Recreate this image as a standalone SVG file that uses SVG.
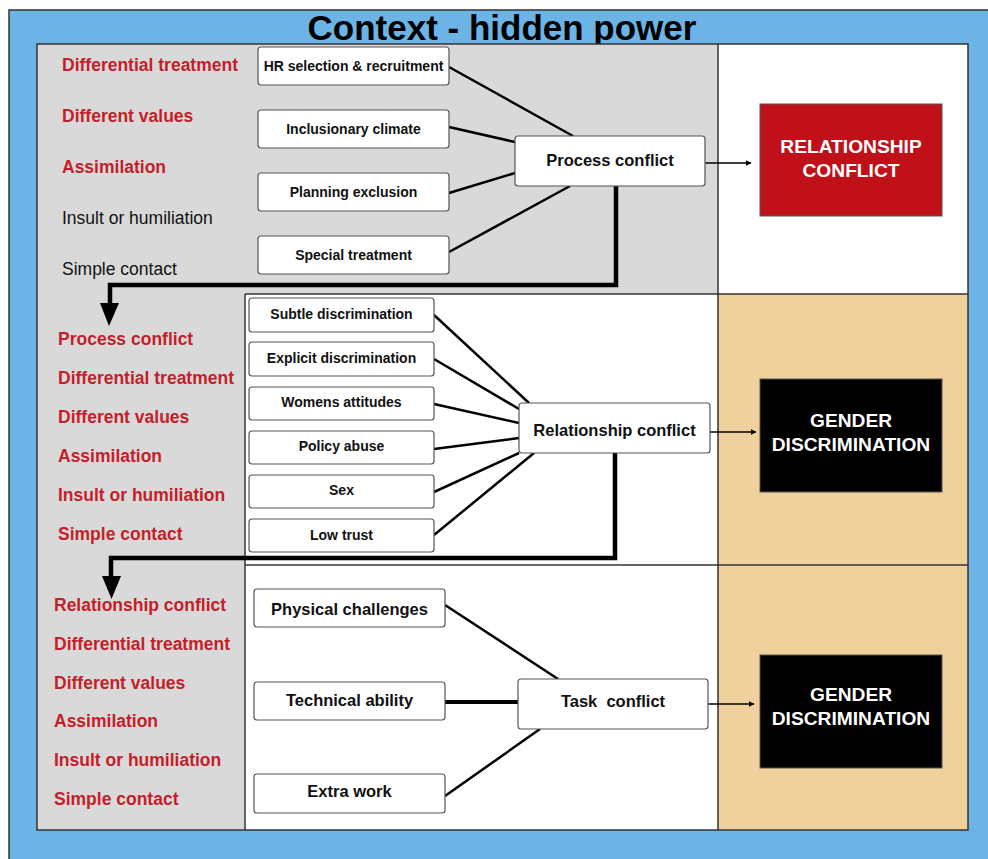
<svg xmlns="http://www.w3.org/2000/svg" width="988" height="859" viewBox="0 0 988 859">
<defs>
<style>
text{font-family:"Liberation Sans",Arial,sans-serif;}
.title{font-size:35px;font-weight:bold;fill:#000;text-anchor:middle;}
.lbl{font-size:17.5px;font-weight:bold;fill:#c41e2a;}
.lblk{font-size:17.5px;fill:#111;}
.box{fill:#fff;stroke:#555;stroke-width:1.2;}
.bt14{font-size:14px;font-weight:bold;fill:#111;text-anchor:middle;}
.bt13{font-size:14px;font-weight:bold;fill:#111;text-anchor:middle;}
.bt16{font-size:16.5px;font-weight:bold;fill:#111;text-anchor:middle;}
.out{font-size:19.2px;font-weight:bold;fill:#fff;text-anchor:middle;}
.ln{stroke:#000;stroke-width:2.5;fill:none;}
.thick{stroke:#000;stroke-width:4.5;fill:none;}
.sm{stroke:#000;stroke-width:1.5;fill:none;marker-end:url(#sa);}
</style>
<marker id="sa" viewBox="0 0 10 10" refX="9" refY="5" markerWidth="6" markerHeight="6" markerUnits="userSpaceOnUse" orient="auto"><path d="M0,0 L10,5 L0,10 z" fill="#000"/></marker>
</defs>
<rect x="0" y="0" width="988" height="859" fill="#fff"/>
<rect x="9" y="10" width="985" height="855" fill="#6cb4e6" stroke="#333" stroke-width="1.5"/>
<text class="title" x="502" y="40">Context - hidden power</text>
<g id="panels">
<rect x="37" y="44" width="931" height="786" fill="#d9d9d9"/>
<rect x="718" y="44" width="250" height="250" fill="#fff"/>
<rect x="245" y="294" width="473" height="536" fill="#fff"/>
<rect x="718" y="294" width="250" height="536" fill="#f0d09c"/>
<line x1="718" y1="44" x2="718" y2="830" stroke="#333" stroke-width="1.5"/>
<line x1="245" y1="294" x2="245" y2="830" stroke="#333" stroke-width="1.5"/>
<line x1="245" y1="294" x2="968" y2="294" stroke="#333" stroke-width="1.5"/>
<line x1="245" y1="565" x2="968" y2="565" stroke="#333" stroke-width="1.5"/>
<rect x="37" y="44" width="931" height="786" fill="none" stroke="#333" stroke-width="1.5"/>
</g>
<g id="labels-top">
<text class="lbl" x="62" y="71">Differential treatment</text>
<text class="lbl" x="62" y="122">Different values</text>
<text class="lbl" x="62" y="173">Assimilation</text>
<text class="lblk" x="62" y="224">Insult or humiliation</text>
<text class="lblk" x="62" y="275">Simple contact</text>
</g>
<g id="labels-mid">
<text class="lbl" x="58" y="345">Process conflict</text>
<text class="lbl" x="58" y="384">Differential treatment</text>
<text class="lbl" x="58" y="423">Different values</text>
<text class="lbl" x="58" y="462">Assimilation</text>
<text class="lbl" x="58" y="501">Insult or humiliation</text>
<text class="lbl" x="58" y="540">Simple contact</text>
</g>
<g id="labels-bot">
<text class="lbl" x="54" y="611">Relationship conflict</text>
<text class="lbl" x="54" y="650">Differential treatment</text>
<text class="lbl" x="54" y="689">Different values</text>
<text class="lbl" x="54" y="727">Assimilation</text>
<text class="lbl" x="54" y="766">Insult or humiliation</text>
<text class="lbl" x="54" y="805">Simple contact</text>
</g>
<g id="connectors">
<line class="ln" x1="449" y1="67" x2="573" y2="136"/>
<line class="ln" x1="449" y1="127" x2="515" y2="142"/>
<line class="ln" x1="449" y1="193" x2="515" y2="173"/>
<line class="ln" x1="449" y1="252" x2="570" y2="186"/>
<line class="sm" x1="705" y1="163" x2="751" y2="163"/>
<polyline class="thick" points="616,186 616,285 110,285 110,304"/>
<polygon points="100,303 119,303 109,326" fill="#000"/>
<line class="ln" x1="434" y1="315" x2="529" y2="403"/>
<line class="ln" x1="434" y1="359" x2="519" y2="409"/>
<line class="ln" x1="434" y1="404" x2="519" y2="423"/>
<line class="ln" x1="434" y1="449" x2="519" y2="438"/>
<line class="ln" x1="434" y1="492" x2="519" y2="453"/>
<line class="ln" x1="434" y1="535" x2="534" y2="453"/>
<line class="sm" x1="710" y1="432" x2="756" y2="432"/>
<polyline class="thick" points="615,453 615,558 111,558 111,577"/>
<polygon points="102,576 121,576 111.5,599" fill="#000"/>
<line class="ln" x1="445" y1="605" x2="558" y2="679"/>
<line x1="445" y1="702" x2="518" y2="702" stroke="#000" stroke-width="4"/>
<line class="ln" x1="445" y1="796" x2="540" y2="729"/>
<line class="sm" x1="708" y1="704" x2="754" y2="704"/>
</g>
<g id="n-hr"><rect class="box" x="258" y="47" width="191" height="38" rx="3"/><text class="bt14" x="353.5" y="71">HR selection &amp; recruitment</text></g>
<g id="n-incl"><rect class="box" x="258" y="110" width="191" height="38" rx="3"/><text class="bt14" x="353.5" y="134">Inclusionary climate</text></g>
<g id="n-plan"><rect class="box" x="258" y="173" width="191" height="38" rx="3"/><text class="bt14" x="353.5" y="197">Planning exclusion</text></g>
<g id="n-special"><rect class="box" x="258" y="236" width="191" height="38" rx="3"/><text class="bt14" x="353.5" y="260">Special treatment</text></g>
<g id="n-process"><rect class="box" x="515" y="136" width="190" height="50" rx="3"/><text class="bt16" x="610" y="166">Process conflict</text></g>
<g id="n-relconf-out"><rect x="760" y="104" width="182" height="112" fill="#c0111a" stroke="#555" stroke-width="1"/><text class="out" x="851" y="153">RELATIONSHIP</text><text class="out" x="851" y="177">CONFLICT</text></g>
<g id="n-subtle"><rect class="box" x="249" y="298" width="185" height="34" rx="3"/><text class="bt13" x="341.5" y="319">Subtle discrimination</text></g>
<g id="n-explicit"><rect class="box" x="249" y="342" width="185" height="34" rx="3"/><text class="bt13" x="341.5" y="363">Explicit discrimination</text></g>
<g id="n-womens"><rect class="box" x="249" y="387" width="185" height="33" rx="3"/><text class="bt13" x="341.5" y="407">Womens attitudes</text></g>
<g id="n-policy"><rect class="box" x="249" y="431" width="185" height="33" rx="3"/><text class="bt13" x="341.5" y="451">Policy abuse</text></g>
<g id="n-sex"><rect class="box" x="249" y="475" width="185" height="33" rx="3"/><text class="bt13" x="341.5" y="495">Sex</text></g>
<g id="n-trust"><rect class="box" x="249" y="519" width="185" height="33" rx="3"/><text class="bt13" x="341.5" y="540">Low trust</text></g>
<g id="n-relationship"><rect class="box" x="519" y="403" width="191" height="50" rx="3"/><text class="bt16" x="614.5" y="436">Relationship conflict</text></g>
<g id="n-gender1"><rect x="760" y="379" width="182" height="113" fill="#000" stroke="#555" stroke-width="1"/><text class="out" x="851" y="427">GENDER</text><text class="out" x="851" y="451">DISCRIMINATION</text></g>
<g id="n-physical"><rect class="box" x="254" y="589" width="191" height="38" rx="3"/><text class="bt16" x="349.5" y="615">Physical challenges</text></g>
<g id="n-technical"><rect class="box" x="254" y="682" width="191" height="38" rx="3"/><text class="bt16" x="349.5" y="706">Technical ability</text></g>
<g id="n-extra"><rect class="box" x="254" y="774" width="191" height="39" rx="3"/><text class="bt16" x="349.5" y="797">Extra work</text></g>
<g id="n-task"><rect class="box" x="518" y="679" width="190" height="50" rx="3"/><text class="bt16" x="613" y="707" xml:space="preserve">Task  conflict</text></g>
<g id="n-gender2"><rect x="760" y="655" width="182" height="113" fill="#000" stroke="#555" stroke-width="1"/><text class="out" x="851" y="701">GENDER</text><text class="out" x="851" y="725">DISCRIMINATION</text></g>
</svg>
